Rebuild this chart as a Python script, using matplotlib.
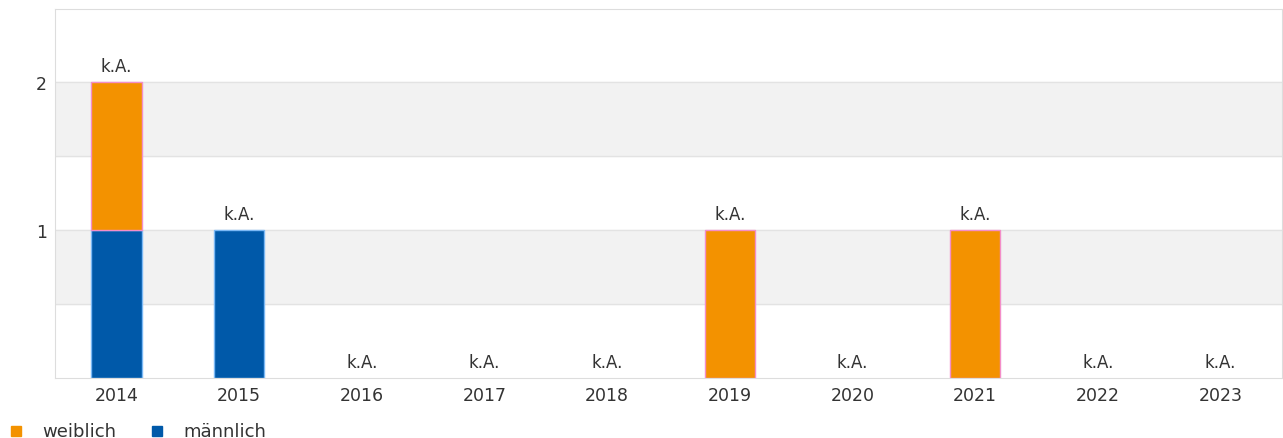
import matplotlib.pyplot as plt
from matplotlib.lines import Line2D

years = ['2014', '2015', '2016', '2017', '2018', '2019', '2020', '2021', '2022', '2023']
weiblich = [1, 0, 0, 0, 0, 1, 0, 1, 0, 0]
maennlich = [1, 1, 0, 0, 0, 0, 0, 0, 0, 0]
labels = ['k.A.'] * len(years)
series_names = ['weiblich', 'männlich']

orange = '#f39200'
blue = '#0059a9'
text_col = '#333333'

plt.rcParams['font.family'] = ['DejaVu Sans']

W, H = 1283, 439
fig = plt.figure(figsize=(W / 100, H / 100), dpi=100)
ax = fig.add_axes([55 / W, 60 / H, 1227 / W, 369 / H])

x = list(range(len(years)))

# alternating bands and grid lines
for lo in [0.5, 1.5]:
    ax.axhspan(lo, lo + 0.5, color='#f2f2f2', zorder=0)
for y in [0.5, 1, 1.5, 2]:
    ax.axhline(y, color='#e3e3e3', lw=1, zorder=1)

# no outline for empty segments
blue_edges = ['#7ab8f5' if v > 0 else 'none' for v in maennlich]
orange_edges = ['#f38ec9' if v > 0 else 'none' for v in weiblich]
ax.bar(x, maennlich, width=0.41, color=blue, edgecolor=blue_edges, lw=1, zorder=2)
ax.bar(x, weiblich, width=0.41, bottom=maennlich, color=orange, edgecolor=orange_edges, lw=1, zorder=3)

totals = [w + m for w, m in zip(weiblich, maennlich)]
for i, t in enumerate(totals):
    ax.annotate(labels[i], (i, t), xytext=(0, 5), textcoords='offset points',
                ha='center', va='bottom', fontsize=12, color=text_col)

ax.set_xlim(-0.5, len(years) - 0.5)
ax.set_ylim(0, 2.49)
ax.set_xticks(x)
ax.set_xticklabels(years)
ax.set_yticks([1, 2])
ax.tick_params(length=0, labelsize=12.5, labelcolor=text_col, pad=6)
for side in ['left', 'right', 'top', 'bottom']:
    ax.spines[side].set_color('#dddddd')

# legend drawn by hand at the bottom left
for px, name, col in [(16, series_names[0], orange), (157, series_names[1], blue)]:
    fig.add_artist(Line2D([px / W], [7 / H], transform=fig.transFigure, marker='s',
                          ls='', color=col, markersize=6.5))
    fig.text((px + 26) / W, 7 / H, name, ha='left', va='center', fontsize=13, color=text_col)

fig.savefig('out.png')
